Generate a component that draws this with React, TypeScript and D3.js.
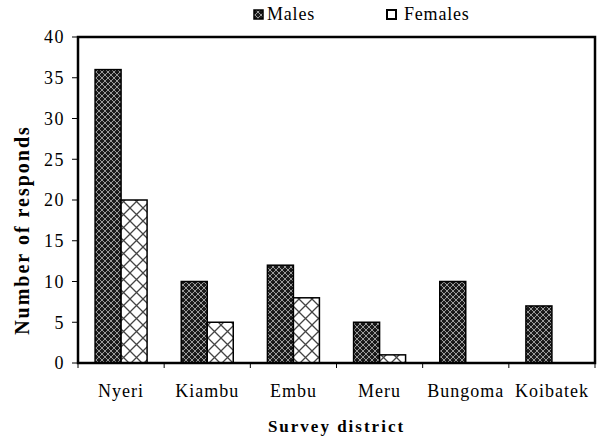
import React from "react";
import * as d3 from "d3";

const categories = ["Nyeri", "Kiambu", "Embu", "Meru", "Bungoma", "Koibatek"];
const males = [36, 10, 12, 5, 10, 7];
const females = [20, 5, 8, 1, 0, 0];
const yTicks = [0, 5, 10, 15, 20, 25, 30, 35, 40];
const seriesNames = ["Males", "Females"];

const W = 601, H = 441;
const left = 78, right = 595, top = 37, bottom = 363;
const font = "serif";

export default function App() {
  const x = d3.scaleBand<string>().domain(categories).range([left, right]).paddingInner(0).paddingOuter(0);
  const y = d3.scaleLinear().domain([0, 40]).range([bottom, top]);
  const bw = x.bandwidth();
  const barW = 26;
  const off = (bw - 2 * barW) / 2;
  const ts = (size: number, bold = false) => ({ fontFamily: font, fontSize: size, fontWeight: bold ? "bold" : "normal" });
  return (
    <svg width={W} height={H} style={{ position: "absolute", left: 0, top: 0, background: "#fff", fontFamily: font }}>
      <defs>
        <pattern id="pm" width="6" height="6" patternUnits="userSpaceOnUse">
          <rect width="6" height="6" fill="#1c1c1c" />
          <path d="M0,0 L6,6 M6,0 L0,6" stroke="#9a9a9a" strokeWidth="1" />
          <circle cx="3" cy="0" r="0.8" fill="#000" />
        </pattern>
        <pattern id="pf" width="13" height="13" patternUnits="userSpaceOnUse" x="0" y="0">
          <rect width="13" height="13" fill="#fff" />
          <path d="M0,0 L13,13 M13,0 L0,13" stroke="#444" strokeWidth="1.3" />
        </pattern>
      </defs>
      {/* legend */}
      <rect x={254} y={10} width={9} height={9} fill="url(#pm)" stroke="#000" strokeWidth={1.5} />
      <text x={267} y={20} style={ts(18)} letterSpacing={0.8}>{seriesNames[0]}</text>
      <rect x={387} y={10} width={9} height={9} fill="#fff" stroke="#000" strokeWidth={2} />
      <text x={404} y={20} style={ts(18)} letterSpacing={0.8}>{seriesNames[1]}</text>
      {/* bars */}
      {categories.map((c, i) => {
        const x0 = (x(c) as number) + off;
        return (
          <g key={c}>
            <rect x={x0} y={y(males[i])} width={barW} height={bottom - y(males[i])} fill="url(#pm)" stroke="#000" strokeWidth={1.5} />
            {females[i] > 0 && (
              <rect x={x0 + barW} y={y(females[i])} width={barW} height={bottom - y(females[i])} fill="url(#pf)" stroke="#000" strokeWidth={1.5} />
            )}
          </g>
        );
      })}
      {/* frame */}
      <rect x={left} y={top} width={right - left} height={bottom - top} fill="none" stroke="#000" strokeWidth={2.5} />
      {/* y ticks */}
      {yTicks.map((t) => (
        <g key={t}>
          <line x1={left - 6} x2={left} y1={y(t)} y2={y(t)} stroke="#000" strokeWidth={1} />
          <text x={left - 13} y={y(t)} dy="0.35em" textAnchor="end" style={ts(18)} letterSpacing={1.5}>{t}</text>
        </g>
      ))}
      {/* x ticks */}
      {d3.range(categories.length + 1).map((i) => {
        const xx = left + i * bw;
        return <line key={i} x1={xx} x2={xx} y1={bottom} y2={bottom + 5} stroke="#000" strokeWidth={1} />;
      })}
      {categories.map((c) => (
        <text key={c} x={(x(c) as number) + bw / 2} y={397} textAnchor="middle" style={ts(18)} letterSpacing={1}>{c}</text>
      ))}
      <text x={(left + right) / 2} y={432} textAnchor="middle" style={ts(17, true)} letterSpacing={2}>Survey district</text>
      <text transform={`translate(29,230) rotate(-90)`} textAnchor="middle" style={ts(20, true)} letterSpacing={2}>Number of responds</text>
    </svg>
  );
}
